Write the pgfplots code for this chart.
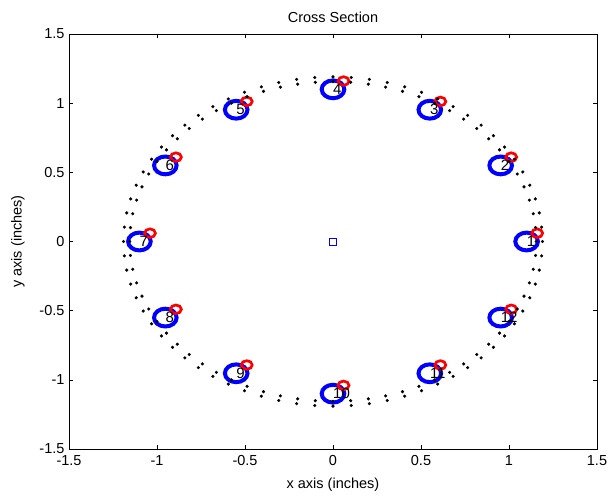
\documentclass[border=0pt]{standalone}
\usepackage{fontspec}
\setmainfont{Liberation Sans}
\usepackage{pgfplots}
\pgfplotsset{compat=1.18}

% blue sensor positions (r = 1.1) with their numbers
\pgfplotstableread{
x y lbl
1.1 0 1
0.9526 0.55 2
0.55 0.9526 3
0 1.1 4
-0.55 0.9526 5
-0.9526 0.55 6
-1.1 0 7
-0.9526 -0.55 8
-0.55 -0.9526 9
0 -1.1 10
0.55 -0.9526 11
0.9526 -0.55 12
}\sensors

% red markers, shifted by (0.06, 0.06)
\pgfplotstableread{
x y
1.16 0.06
1.0126 0.61
0.61 1.0126
0.06 1.16
-0.49 1.0126
-0.8926 0.61
-1.04 0.06
-0.8926 -0.49
-0.49 -0.8926
0.06 -1.04
0.61 -0.8926
1.0126 -0.49
}\offsets

\begin{document}
\begin{tikzpicture}
\begin{axis}[
    scale only axis,
    width=528pt, height=415pt,
    xmin=-1.5, xmax=1.5, ymin=-1.5, ymax=1.5,
    xtick={-1.5,-1,-0.5,0,0.5,1,1.5},
    ytick={-1.5,-1,-0.5,0,0.5,1,1.5},
    xticklabels={-1.5,-1,-0.5,0,0.5,1,1.5},
    yticklabels={-1.5,-1,-0.5,0,0.5,1,1.5},
    tick align=inside, tick pos=both,
    major tick length=4pt,
    tick style={black, line width=0.5pt},
    axis line style={black, line width=0.8pt},
    ticklabel style={font=\fontsize{14.5}{17}\selectfont},
    xticklabel style={yshift=-3pt},
    yticklabel style={xshift=-1pt},
    title={Cross Section},
    xlabel={x axis (inches)},
    ylabel={y axis (inches)},
    every axis title/.style={at={(axis description cs:0.5,1)}, yshift=17pt, anchor=center, font=\fontsize{14.5}{17}\selectfont},
    every axis x label/.style={at={(axis description cs:0.5,0)}, yshift=-36pt, anchor=center, font=\fontsize{14.5}{17}\selectfont},
    every axis y label/.style={at={(axis description cs:0,0.5)}, xshift=-51pt, rotate=90, anchor=center, font=\fontsize{14.5}{17}\selectfont},
]
% blue rings
\addplot[only marks, color=blue, mark=o, mark size=8.9pt,
    mark options={xscale=1.27, line width=4pt}] table[x=x, y=y] {\sensors};
% red rings
\addplot[only marks, color=red, mark=o, mark size=4.3pt,
    mark options={xscale=1.27, line width=2.7pt}] table {\offsets};
% centre square
\addplot[only marks, color=blue, mark=square, mark size=3.5pt,
    mark options={line width=0.6pt}] coordinates {(0,0)};
% dot ring, inner radius 1.155
\addplot[only marks, black, mark=*, mark size=1.4pt] coordinates {
(1.155,0) (1.1506,0.1007) (1.1375,0.2006) (1.1156,0.2989) (1.0853,0.3950) (1.0468,0.4881)
(1.0003,0.5775) (0.9461,0.6625) (0.8848,0.7424) (0.8167,0.8167) (0.7424,0.8848) (0.6625,0.9461)
(0.5775,1.0003) (0.4881,1.0468) (0.3950,1.0853) (0.2989,1.1156) (0.2006,1.1375) (0.1007,1.1506)
(0,1.155) (-0.1007,1.1506) (-0.2006,1.1375) (-0.2989,1.1156) (-0.3950,1.0853) (-0.4881,1.0468)
(-0.5775,1.0003) (-0.6625,0.9461) (-0.7424,0.8848) (-0.8167,0.8167) (-0.8848,0.7424) (-0.9461,0.6625)
(-1.0003,0.5775) (-1.0468,0.4881) (-1.0853,0.3950) (-1.1156,0.2989) (-1.1375,0.2006) (-1.1506,0.1007)
(-1.155,0) (-1.1506,-0.1007) (-1.1375,-0.2006) (-1.1156,-0.2989) (-1.0853,-0.3950) (-1.0468,-0.4881)
(-1.0003,-0.5775) (-0.9461,-0.6625) (-0.8848,-0.7424) (-0.8167,-0.8167) (-0.7424,-0.8848) (-0.6625,-0.9461)
(-0.5775,-1.0003) (-0.4881,-1.0468) (-0.3950,-1.0853) (-0.2989,-1.1156) (-0.2006,-1.1375) (-0.1007,-1.1506)
(0,-1.155) (0.1007,-1.1506) (0.2006,-1.1375) (0.2989,-1.1156) (0.3950,-1.0853) (0.4881,-1.0468)
(0.5775,-1.0003) (0.6625,-0.9461) (0.7424,-0.8848) (0.8167,-0.8167) (0.8848,-0.7424) (0.9461,-0.6625)
(1.0003,-0.5775) (1.0468,-0.4881) (1.0853,-0.3950) (1.1156,-0.2989) (1.1375,-0.2006) (1.1506,-0.1007)
};
% dot ring, outer radius 1.19
\addplot[only marks, black, mark=*, mark size=1.4pt] coordinates {
(1.19,0) (1.1855,0.1037) (1.1719,0.2066) (1.1495,0.3080) (1.1182,0.4070) (1.0785,0.5029)
(1.0306,0.595) (0.9748,0.6826) (0.9116,0.7649) (0.8415,0.8415) (0.7649,0.9116) (0.6826,0.9748)
(0.595,1.0306) (0.5029,1.0785) (0.4070,1.1182) (0.3080,1.1495) (0.2066,1.1719) (0.1037,1.1855)
(0,1.19) (-0.1037,1.1855) (-0.2066,1.1719) (-0.3080,1.1495) (-0.4070,1.1182) (-0.5029,1.0785)
(-0.595,1.0306) (-0.6826,0.9748) (-0.7649,0.9116) (-0.8415,0.8415) (-0.9116,0.7649) (-0.9748,0.6826)
(-1.0306,0.595) (-1.0785,0.5029) (-1.1182,0.4070) (-1.1495,0.3080) (-1.1719,0.2066) (-1.1855,0.1037)
(-1.19,0) (-1.1855,-0.1037) (-1.1719,-0.2066) (-1.1495,-0.3080) (-1.1182,-0.4070) (-1.0785,-0.5029)
(-1.0306,-0.595) (-0.9748,-0.6826) (-0.9116,-0.7649) (-0.8415,-0.8415) (-0.7649,-0.9116) (-0.6826,-0.9748)
(-0.595,-1.0306) (-0.5029,-1.0785) (-0.4070,-1.1182) (-0.3080,-1.1495) (-0.2066,-1.1719) (-0.1037,-1.1855)
(0,-1.19) (0.1037,-1.1855) (0.2066,-1.1719) (0.3080,-1.1495) (0.4070,-1.1182) (0.5029,-1.0785)
(0.595,-1.0306) (0.6826,-0.9748) (0.7649,-0.9116) (0.8415,-0.8415) (0.9116,-0.7649) (0.9748,-0.6826)
(1.0306,-0.595) (1.0785,-0.5029) (1.1182,-0.4070) (1.1495,-0.3080) (1.1719,-0.2066) (1.1855,-0.1037)
};
% sensor numbers
\addplot[only marks, mark=none, nodes near coords, point meta=explicit symbolic,
    every node near coord/.style={anchor=west, inner sep=0pt, black,
        font=\fontsize{15}{17}\selectfont}]
    table[x=x, y=y, meta=lbl] {\sensors};
\end{axis}
\pgfresetboundingbox
\path (current axis.south west) ++(-69pt,-47pt) coordinate (bbA);
\path (current axis.north east) ++(13pt,34pt) coordinate (bbB);
\path (bbA) rectangle (bbB);
\end{tikzpicture}
\end{document}
